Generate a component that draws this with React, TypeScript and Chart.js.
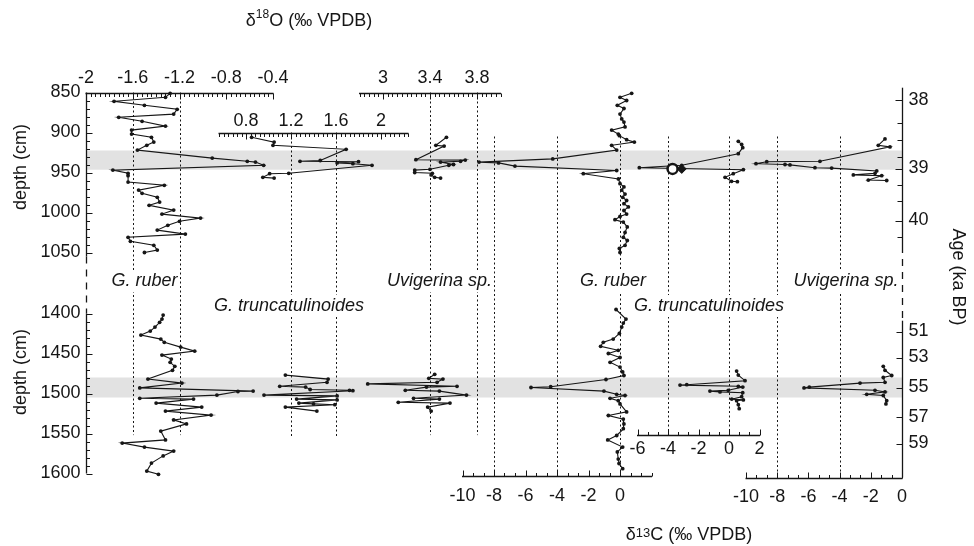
import React, { useEffect, useRef } from 'react';
import { Chart, registerables } from 'chart.js';
Chart.register(...registerables);

// ------------------------------------------------------------------ data
// Upper section (850-1060 cm)
const orTopDepth = [851, 856, 861, 866, 871, 877, 881, 886, 892, 897, 902, 906, 912, 916, 922, 932, 936, 937, 941, 947, 951, 954, 962, 966, 972, 976, 981, 987, 991, 997, 1002, 1007, 1011, 1016, 1022, 1027, 1031, 1036, 1041, 1047, 1050];
const orTopVal = [-1.28, -1.32, -1.76, -1.5, -1.22, -1.25, -1.72, -1.52, -1.32, -1.61, -1.61, -1.44, -1.42, -1.48, -1.56, -0.92, -0.62, -0.55, -0.48, -1.77, -1.64, -1.64, -1.64, -1.33, -1.55, -1.52, -1.39, -1.37, -1.46, -1.25, -1.35, -1.02, -1.2, -1.3, -1.39, -1.15, -1.64, -1.62, -1.42, -1.39, -1.5];

const otTopDepth = [906, 912, 916, 921, 935, 936, 936.5, 938, 939, 941, 951, 951.5, 956, 957];
const otTopVal = [0.85, 1.05, 1.04, 1.69, 1.46, 1.28, 1.8, 1.61, 1.75, 1.92, 1.18, 1.01, 0.95, 1.05];

const ouTopDepth = [906, 916, 917, 934, 934.5, 936, 937, 940, 941, 946, 947, 950, 951, 953, 956, 957];
const ouTopVal = [3.54, 3.45, 3.52, 3.28, 3.7, 3.66, 3.49, 3.6, 3.56, 3.4, 3.27, 3.27, 3.42, 3.41, 3.44, 3.49];

const crTopDepth = [851, 856, 860, 866, 870, 877, 883, 887, 893, 897, 902, 904, 909, 912, 916, 922, 933, 937, 938, 942, 947.5, 951.5, 958, 964, 968, 972, 977, 981, 985, 989, 993, 997.5, 1002, 1005, 1009, 1012, 1018, 1025, 1031, 1035, 1041, 1045, 1050];
const crTopVal = [0.74, 0, 0.42, -0.17, 0.25, 0, 0.11, 0.25, 0.32, -0.53, -0.11, -0.04, 0.42, 0.91, -0.53, -0.21, -4.27, -8.95, -7.71, -6.67, -0.21, -2.33, -0.1, 0, 0.25, 0.11, 0.32, 0.17, 0.42, 0.25, 0.53, 0.25, 0.42, 0, -0.32, 0.21, 0.46, 0.32, 0.21, 0.46, 0.32, -0.04, 0];

const ctTopDepth = [911, 915, 919, 926.5, 941, 944, 946.5, 951.5, 956, 961, 961.5];
const ctTopVal = [0.61, 0.83, 0.9, 0.61, -3.1, -5.88, 0.94, 0.28, -0.26, 0.17, 0.55];

const markDepth = [945.5];
const markCircleVal = [-3.7];
const markDiamondVal = [-3.1];

const cuTopDepth = [908, 916, 918, 936, 936.5, 939, 940, 940.5, 944, 944.5, 948, 951, 953, 954, 959.5, 960];
const cuTopVal = [-1.09, -1.52, -0.77, -5.26, -8.67, -9.36, -7.5, -7.18, -5.58, -4.51, -1.62, -1.73, -3.12, -1.3, -2.16, -0.98];

// Lower section (1390-1600 cm)
const orBotDepth = [1402, 1407, 1411, 1417, 1422, 1427, 1432, 1436, 1442, 1447, 1452, 1457, 1461, 1466, 1471, 1482, 1487, 1493, 1497, 1497.5, 1502, 1506, 1507, 1512, 1517, 1522, 1527, 1533, 1538, 1547, 1558, 1562, 1567, 1572, 1578, 1587, 1597, 1601];
const orBotVal = [-1.34, -1.35, -1.37, -1.41, -1.45, -1.53, -1.36, -1.33, -1.19, -1.07, -1.35, -1.27, -1.28, -1.24, -1.26, -1.47, -1.18, -1.54, -0.57, -0.7, -0.88, -1.54, -1.08, -1.4, -1.01, -1.32, -0.93, -1.25, -1.14, -1.36, -1.32, -1.69, -1.5, -1.25, -1.34, -1.44, -1.48, -1.38];

const otBotDepth = [1477, 1482, 1486, 1491, 1492, 1495, 1496, 1496.5, 1502, 1503, 1507, 1508, 1512, 1513, 1514, 1517, 1522];
const otBotVal = [1.15, 1.53, 1.52, 1.1, 1.33, 1.37, 1.72, 1.75, 0.96, 1.61, 1.25, 1.61, 1.27, 1.4, 1.59, 1.15, 1.43];

const ouBotDepth = [1476, 1481, 1482, 1486, 1488, 1491, 1492, 1496, 1497, 1502, 1506, 1507, 1511, 1512, 1517, 1522];
const ouBotVal = [3.44, 3.39, 3.51, 3.46, 2.87, 3.63, 3.37, 3.19, 3.48, 3.71, 3.26, 3.48, 3.13, 3.57, 3.38, 3.41];

const crBotDepth = [1395, 1407, 1412, 1417, 1425, 1432, 1436, 1441, 1446, 1450, 1455, 1461, 1467, 1473, 1477.5, 1482.5, 1491.5, 1492.5, 1497, 1501, 1502.5, 1506, 1509, 1513, 1523, 1527.5, 1532, 1538, 1544, 1552.5, 1558, 1567, 1573, 1582, 1587.5, 1594];
const crBotVal = [-0.25, 0.38, 0.21, 0.11, -0.04, -0.43, -1.06, -1.23, -0.11, -0.74, 0, -0.63, 0, 0.17, 0.25, -0.89, -4.4, -5.65, -1.02, -0.21, 0.32, -0.63, -0.11, 0, 0.42, -0.74, 0.21, 0.25, 0.21, -0.21, -0.78, 0.17, -0.17, -0.11, -0.06, 0.17];

const ctBotDepth = [1472, 1477, 1484, 1489, 1489.5, 1491, 1492, 1496, 1497, 1498, 1499, 1504, 1507, 1508, 1509, 1514, 1519];
const ctBotVal = [0.5, 0.61, 1.05, -2.77, -3.21, 0.61, 0.9, -0.05, -1.25, -0.59, 0.9, 0.83, 0.18, 0.94, 0.5, 0.61, 0.67];

const cuBotDepth = [1466, 1471, 1477.5, 1480, 1486, 1487, 1492, 1493, 1496, 1498, 1501, 1502.5, 1509, 1513];
const cuBotVal = [-1.2, -1.09, -0.66, -1.2, -1.09, -2.69, -5.94, -6.28, -1.73, -1.09, -2.26, -1.2, -0.98, -1.03];

// Tick labels / reference values
const tickOr = [-2, -1.6, -1.2, -0.8, -0.4];
const tickOt = [0.8, 1.2, 1.6, 2];
const tickOu = [3, 3.4, 3.8];
const tickCr = [-10, -8, -6, -4, -2, 0];
const tickCt = [-6, -4, -2, 0, 2];
const tickCu = [-10, -8, -6, -4, -2, 0];
const refOr = [-1.6, -1.2];
const refOt = [1.2, 1.6];
const refOu = [3.4, 3.8];
const refCr = [-8, -4, 0];
const refCt = [-4, 0];
const refCu = [-8, -4];
const depthTicksTop = [850, 900, 950, 1000, 1050];
const depthTicksBot = [1400, 1450, 1500, 1550, 1600];
const ageTopLabels = ['38', '39', '40'];
const ageTopDepths = [859, 945, 1010];
const ageTopMinor = [887.5, 909, 930, 966, 985, 1030];
const ageBotLabels = ['51', '53', '55', '57', '59'];
const ageBotDepths = [1422.5, 1455, 1492.5, 1529, 1562.5];
const bandTop = [922.5, 946.5];
const bandBot = [1480, 1505];

// ------------------------------------------------------------------ layout
const W = 974;
const H = 546;
const FONT = '"Liberation Sans", Arial, Helvetica, sans-serif';
const INK = '#161616';

// value/pixel anchors per scale: [v0, p0, v1, p1]
const ANCH: Record<string, number[]> = {
  xOr: [-2, 86, -0.4, 273],
  xOt: [1.2, 291, 1.6, 336],
  xOu: [3.4, 430, 3.8, 477],
  xCr: [-10, 462.5, 0, 620],
  xCt: [-4, 668, 0, 729],
  xCu: [-10, 746, 0, 902],
  yTop: [850, 92.5, 1050, 252.5],
  yBot: [1400, 313.5, 1600, 473.5],
};
function fit(id: string, size: number) {
  const [v0, p0, v1, p1] = ANCH[id];
  const s = (p1 - p0) / (v1 - v0);
  const min = v0 - p0 / s;
  return { min, max: min + size / s };
}

const H_AXES = [
  { x: 'xOr', y: 'yTop', at: 850, min: -2, max: -0.4, step: 0.04, labels: tickOr, dir: 1, off: -15 },
  { x: 'xOt', y: 'yTop', at: 900, min: 0.56, max: 2.24, step: 0.04, labels: tickOt, dir: 1, off: -12 },
  { x: 'xOu', y: 'yTop', at: 850, min: 2.8, max: 4.0, step: 0.04, labels: tickOu, dir: 1, off: -15 },
  { x: 'xCr', y: 'yBot', at: 1603, min: -10, max: 2, step: 2 / 3, labels: tickCr, dir: -1, off: 20 },
  { x: 'xCt', y: 'yBot', at: 1552, min: -6, max: 2, step: 2 / 3, labels: tickCt, dir: -1, off: 14 },
  { x: 'xCu', y: 'yBot', at: 1605, min: -10, max: 0, step: 2 / 3, labels: tickCu, dir: -1, off: 19 },
];

const REFS = [
  { x: 'xOr', vals: refOr, from: 850, to: 1552 },
  { x: 'xOt', vals: refOt, from: 900, to: 1555 },
  { x: 'xOu', vals: refOu, from: 850, to: 1552 },
  { x: 'xCr', vals: refCr, from: 905, to: 1603 },
  { x: 'xCt', vals: refCt, from: 905, to: 1552 },
  { x: 'xCu', vals: refCu, from: 905, to: 1605 },
];

const SPECIES = [
  { t: 'G. ruber', x: 144.5, y: 281 },
  { t: 'Uvigerina sp.', x: 439.5, y: 281 },
  { t: 'G. ruber', x: 613, y: 281 },
  { t: 'Uvigerina sp.', x: 846, y: 281 },
  { t: 'G. truncatulinoides', x: 289, y: 306 },
  { t: 'G. truncatulinoides', x: 709, y: 306 },
];

function series(depths: number[], vals: number[]) {
  return depths.map((d, i) => ({ x: vals[i], y: d }));
}

const overlay = {
  id: 'overlay',
  beforeDatasetsDraw(chart: any) {
    const ctx: CanvasRenderingContext2D = chart.ctx;
    const P = (id: string, v: number) => chart.scales[id].getPixelForValue(v);
    ctx.save();
    // grey bands
    const xl = P('xOr', -2);
    const xr = P('xCu', 0);
    ctx.fillStyle = '#e2e2e2';
    let y0 = P('yTop', bandTop[0]);
    let y1 = P('yTop', bandTop[1]);
    ctx.fillRect(xl, y0, xr - xl, y1 - y0);
    y0 = P('yBot', bandBot[0]);
    y1 = P('yBot', bandBot[1]);
    ctx.fillRect(xl, y0, xr - xl, y1 - y0);
    // dotted reference lines
    ctx.strokeStyle = INK;
    ctx.lineWidth = 1;
    ctx.setLineDash([2, 2.5]);
    REFS.forEach((r) => {
      r.vals.forEach((v) => {
        const x = Math.round(P(r.x, v)) + 0.5;
        ctx.beginPath();
        ctx.moveTo(x, P('yTop', r.from));
        ctx.lineTo(x, P('yBot', r.to));
        ctx.stroke();
      });
    });
    ctx.setLineDash([]);
    // white boxes behind species labels
    ctx.font = 'italic 18px ' + FONT;
    ctx.fillStyle = '#ffffff';
    SPECIES.forEach((s) => {
      const w = ctx.measureText(s.t).width;
      ctx.fillRect(s.x - w / 2 - 2, s.y - 11, w + 4, 22);
    });
    ctx.restore();
  },
  afterDatasetsDraw(chart: any) {
    const ctx: CanvasRenderingContext2D = chart.ctx;
    const P = (id: string, v: number) => chart.scales[id].getPixelForValue(v);
    ctx.save();
    ctx.strokeStyle = INK;
    ctx.fillStyle = INK;
    ctx.font = '18px ' + FONT;
    ctx.textBaseline = 'middle';

    // horizontal value axes
    H_AXES.forEach((a) => {
      const y = Math.round(P(a.y, a.at)) + 0.5;
      ctx.lineWidth = 1.3;
      ctx.beginPath();
      ctx.moveTo(P(a.x, a.min) - 0.5, y);
      ctx.lineTo(P(a.x, a.max) + 0.5, y);
      ctx.stroke();
      ctx.lineWidth = 1;
      const n = Math.round((a.max - a.min) / a.step);
      for (let k = 0; k <= n; k++) {
        const v = a.min + k * a.step;
        const major = a.labels.some((l) => Math.abs(l - v) < 1e-6);
        const len = major ? 6 : 3.5;
        const x = Math.round(P(a.x, v)) + 0.5;
        ctx.beginPath();
        ctx.moveTo(x, y);
        ctx.lineTo(x, y + a.dir * len);
        ctx.stroke();
      }
      ctx.textAlign = 'center';
      a.labels.forEach((l) => {
        ctx.fillText(String(l), P(a.x, l), y + a.off);
      });
    });

    // vertical axis helper
    const vLine = (x: number, ya: number, yb: number, dash: number[]) => {
      ctx.lineWidth = 1.3;
      ctx.setLineDash(dash);
      ctx.beginPath();
      ctx.moveTo(x, ya);
      ctx.lineTo(x, yb);
      ctx.stroke();
      ctx.setLineDash([]);
    };

    // left depth axis
    const xL = Math.round(P('xOr', -2)) + 0.5;
    vLine(xL, P('yTop', 850), P('yTop', 1055), []);
    vLine(xL, P('yTop', 1055), P('yBot', 1400), [7, 6]);
    vLine(xL, P('yBot', 1400), P('yBot', 1600), []);
    ctx.lineWidth = 1;
    const depthTicks = (id: string, lo: number, hi: number) => {
      for (let d = lo; d <= hi; d += 10) {
        const y = Math.round(P(id, d)) + 0.5;
        const len = d % 50 === 0 ? 6 : 3.5;
        ctx.beginPath();
        ctx.moveTo(xL, y);
        ctx.lineTo(xL + len, y);
        ctx.stroke();
      }
    };
    depthTicks('yTop', 850, 1050);
    depthTicks('yBot', 1400, 1600);
    ctx.textAlign = 'right';
    depthTicksTop.forEach((d) => ctx.fillText(String(d), xL - 6, P('yTop', d)));
    depthTicksBot.forEach((d) => ctx.fillText(String(d), xL - 6, P('yBot', d)));

    // right age axis
    const xR = Math.round(P('xCu', 0)) + 0.5;
    vLine(xR, P('yTop', 844), P('yTop', 1042), []);
    vLine(xR, P('yTop', 1042), P('yBot', 1409), [7, 6]);
    vLine(xR, P('yBot', 1409), P('yBot', 1605), []);
    ctx.lineWidth = 1;
    const ageTick = (id: string, d: number, len: number) => {
      const y = Math.round(P(id, d)) + 0.5;
      ctx.beginPath();
      ctx.moveTo(xR, y);
      ctx.lineTo(xR - len, y);
      ctx.stroke();
    };
    ageTopDepths.forEach((d) => ageTick('yTop', d, 7));
    ageTopMinor.forEach((d) => ageTick('yTop', d, 5));
    ageBotDepths.forEach((d) => ageTick('yBot', d, 6));
    ctx.textAlign = 'left';
    ageTopLabels.forEach((t, i) => ctx.fillText(t, xR + 6, P('yTop', ageTopDepths[i])));
    ageBotLabels.forEach((t, i) => ctx.fillText(t, xR + 6, P('yBot', ageBotDepths[i])));

    // species labels
    ctx.font = 'italic 18px ' + FONT;
    ctx.textAlign = 'center';
    SPECIES.forEach((s) => ctx.fillText(s.t, s.x, s.y));

    // axis titles
    ctx.font = '18px ' + FONT;
    const rot = (t: string, x: number, y: number, ang: number) => {
      ctx.save();
      ctx.translate(x, y);
      ctx.rotate(ang);
      ctx.textAlign = 'center';
      ctx.fillText(t, 0, 0);
      ctx.restore();
    };
    rot('depth (cm)', 21, 167, -Math.PI / 2);
    rot('depth (cm)', 21, 372, -Math.PI / 2);
    rot('Age (ka BP)', 958, 277, Math.PI / 2);

    const rich = (parts: { t: string; s: number; dy: number }[], cx: number, cy: number) => {
      let total = 0;
      const widths = parts.map((p) => {
        ctx.font = p.s + 'px ' + FONT;
        const w = ctx.measureText(p.t).width;
        total += w;
        return w;
      });
      let x = cx - total / 2;
      ctx.textAlign = 'left';
      parts.forEach((p, i) => {
        ctx.font = p.s + 'px ' + FONT;
        ctx.fillText(p.t, x, cy + p.dy);
        x += widths[i];
      });
    };
    rich([{ t: 'δ', s: 18, dy: 0 }, { t: '18', s: 12, dy: -6 }, { t: 'O (‰ VPDB)', s: 18, dy: 0 }], 309, 21);
    rich([{ t: 'δ', s: 18, dy: 0 }, { t: '13', s: 13, dy: -2 }, { t: 'C (‰ VPDB)', s: 18, dy: 0 }], 689, 535);

    ctx.restore();
  },
};

export default function App() {
  const ref = useRef<HTMLCanvasElement>(null);
  useEffect(() => {
    if (!ref.current) return;
    const line = (data: any[], x: string, y: string) => ({
      data,
      xAxisID: x,
      yAxisID: y,
      showLine: true,
      borderColor: INK,
      borderWidth: 1.1,
      pointRadius: 1.9,
      pointBackgroundColor: INK,
      pointBorderWidth: 0,
      pointHoverRadius: 1.9,
      clip: false,
      order: 2,
    });
    const scales: any = {};
    ['xOr', 'xOt', 'xOu', 'xCr', 'xCt', 'xCu'].forEach((id) => {
      const f = fit(id, W);
      scales[id] = { type: 'linear', axis: 'x', display: false, min: f.min, max: f.max, bounds: 'data' };
    });
    ['yTop', 'yBot'].forEach((id) => {
      const f = fit(id, H);
      scales[id] = { type: 'linear', axis: 'y', display: false, reverse: true, min: f.min, max: f.max, bounds: 'data' };
    });
    const chart = new Chart(ref.current, {
      type: 'scatter',
      data: {
        datasets: [
          {
            data: series(markDepth, markCircleVal),
            xAxisID: 'xCt',
            yAxisID: 'yTop',
            showLine: false,
            pointStyle: 'circle',
            pointRadius: 5,
            pointBackgroundColor: '#ffffff',
            pointBorderColor: INK,
            pointBorderWidth: 2.5,
            clip: false,
            order: 0,
          } as any,
          {
            data: series(markDepth, markDiamondVal),
            xAxisID: 'xCt',
            yAxisID: 'yTop',
            showLine: false,
            pointStyle: 'rectRot',
            pointRadius: 4.5,
            pointBackgroundColor: INK,
            pointBorderColor: INK,
            pointBorderWidth: 1,
            clip: false,
            order: 1,
          } as any,
          line(series(orTopDepth, orTopVal), 'xOr', 'yTop'),
          line(series(otTopDepth, otTopVal), 'xOt', 'yTop'),
          line(series(ouTopDepth, ouTopVal), 'xOu', 'yTop'),
          line(series(crTopDepth, crTopVal), 'xCr', 'yTop'),
          line(series(ctTopDepth, ctTopVal), 'xCt', 'yTop'),
          line(series(cuTopDepth, cuTopVal), 'xCu', 'yTop'),
          line(series(orBotDepth, orBotVal), 'xOr', 'yBot'),
          line(series(otBotDepth, otBotVal), 'xOt', 'yBot'),
          line(series(ouBotDepth, ouBotVal), 'xOu', 'yBot'),
          line(series(crBotDepth, crBotVal), 'xCr', 'yBot'),
          line(series(ctBotDepth, ctBotVal), 'xCt', 'yBot'),
          line(series(cuBotDepth, cuBotVal), 'xCu', 'yBot'),
        ],
      },
      options: {
        animation: false,
        responsive: false,
        maintainAspectRatio: false,
        events: [],
        layout: { padding: 0, autoPadding: false },
        plugins: { legend: { display: false }, tooltip: { enabled: false } },
        scales,
      },
      plugins: [overlay],
    } as any);
    return () => chart.destroy();
  }, []);
  return (
    <div style={{ position: 'absolute', left: 0, top: 0, width: W, height: H, background: '#ffffff' }}>
      <canvas ref={ref} width={W} height={H} style={{ display: 'block', width: W, height: H }} />
    </div>
  );
}
